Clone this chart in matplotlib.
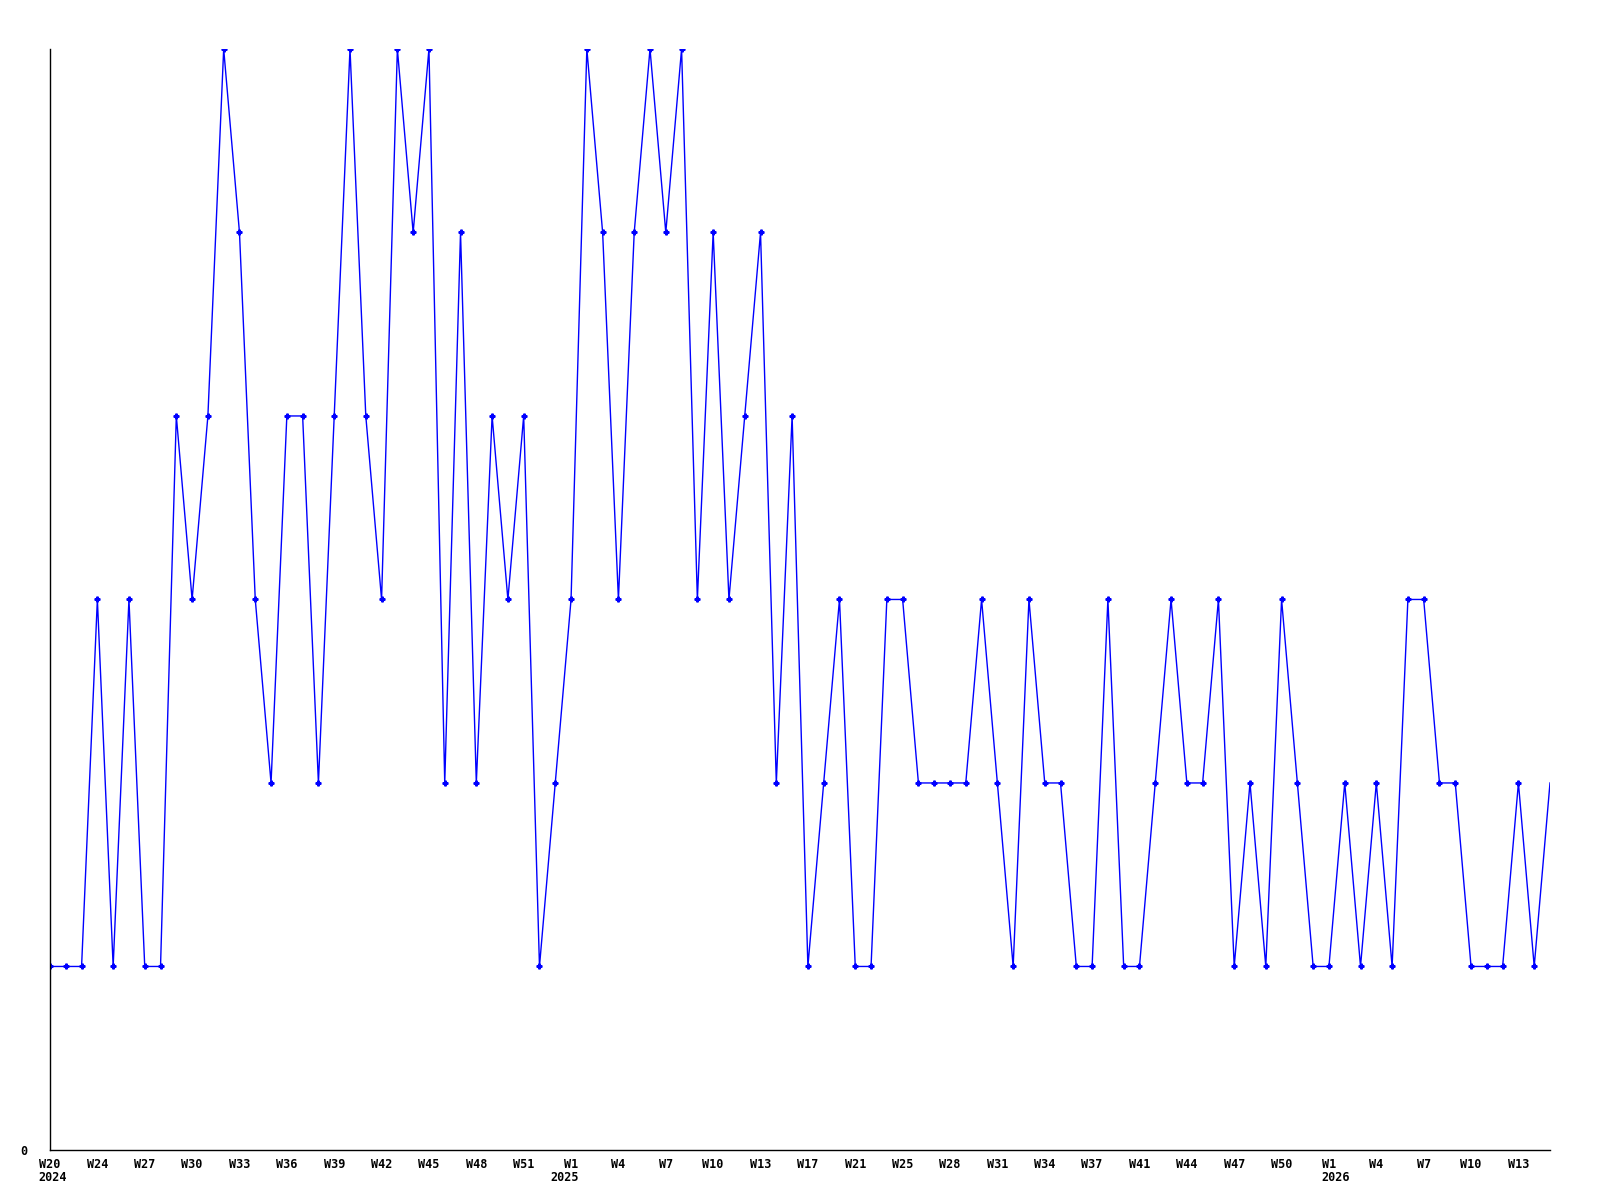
import matplotlib.pyplot as plt
from matplotlib.transforms import blended_transform_factory

# one value per sample (levels 1..6)
values = [1, 1, 1, 3, 1, 3, 1, 1, 4, 3,
          4, 6, 5, 3, 2, 4, 4, 2, 4, 6,
          4, 3, 6, 5, 6, 2, 5, 2, 4, 3,
          4, 1, 2, 3, 6, 5, 3, 5, 6, 5,
          6, 3, 5, 3, 4, 5, 2, 4, 1, 2,
          3, 1, 1, 3, 3, 2, 2, 2, 2, 3,
          2, 1, 3, 2, 2, 1, 1, 3, 1, 1,
          2, 3, 2, 2, 3, 1, 2, 1, 3, 2,
          1, 1, 2, 1, 2, 1, 3, 3, 2, 2,
          1, 1, 1, 2, 1, 2]

# week labels, one every third sample
tick_labels = ["W20", "W24", "W27", "W30", "W33", "W36", "W39", "W42",
               "W45", "W48", "W51", "W1", "W4", "W7", "W10", "W13",
               "W17", "W21", "W25", "W28", "W31", "W34", "W37", "W41",
               "W44", "W47", "W50", "W1", "W4", "W7", "W10", "W13"]

# year labels: (tick index, text)
year_ticks = [0, 11, 27]
year_labels = ["2024", "2025", "2026"]

x = list(range(len(values)))
tick_pos = [3 * i for i in range(len(tick_labels))]

fig = plt.figure(figsize=(16, 12), dpi=100)
ax = fig.add_axes([0.03125, 0.0417, 0.9375, 0.9175])

ax.plot(x, values, color="#0000ff", linewidth=1.0, marker="P", markersize=3.5,
        markevery=list(range(len(values) - 1)))

ax.set_xlim(0, len(values) - 1)
ax.set_ylim(0, 6)

font = dict(family="DejaVu Sans Mono", weight="bold", size=8.5)
ax.set_xticks(tick_pos)
ax.set_xticklabels(tick_labels, fontdict=font)
ax.set_yticks([0])
ax.set_yticklabels(["0"], fontdict=font)
ax.tick_params(axis="x", length=0, pad=6)
ax.tick_params(axis="y", length=0, pad=16)

# year under the first week of each year
trans = blended_transform_factory(ax.transData, ax.transAxes)
char_w = 0.24  # roughly half a character width in data units
for ti, yr in zip(year_ticks, year_labels):
    xp = tick_pos[ti]
    w = len(tick_labels[ti])
    if yr == "2025":
        ax.text(xp + w * char_w, -0.019, yr, transform=trans, ha="right",
                va="top", **font)
    else:
        ax.text(xp - w * char_w, -0.019, yr, transform=trans, ha="left",
                va="top", **font)

ax.spines["top"].set_visible(False)
ax.spines["right"].set_visible(False)
ax.spines["left"].set_linewidth(1.0)
ax.spines["bottom"].set_linewidth(1.0)

fig.savefig("out.png", dpi=100)
